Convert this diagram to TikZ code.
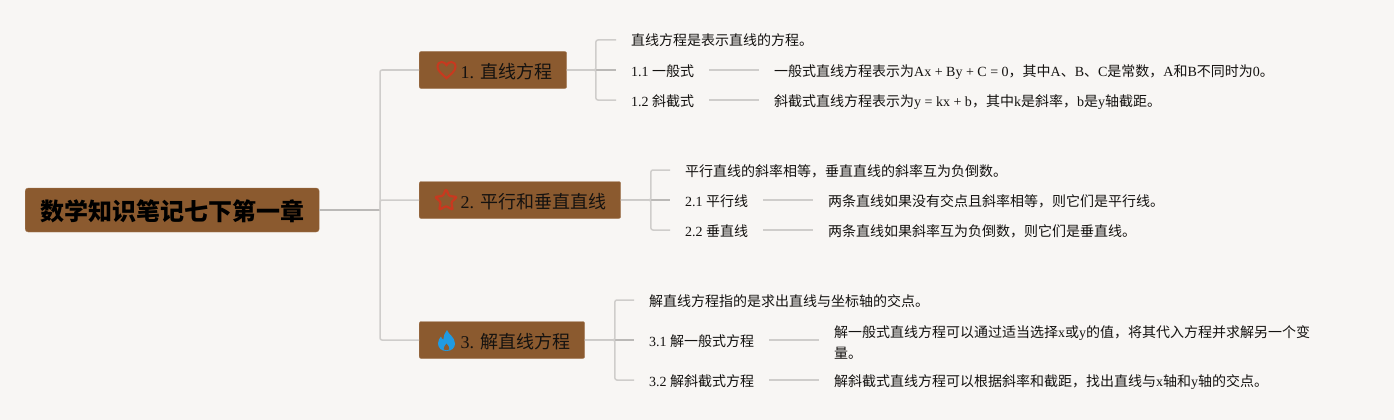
\documentclass[tikz,border=0pt]{standalone}
\usepackage{fontspec}
\setmainfont{Noto Sans CJK SC}
\newfontfamily\latinfont{Liberation Serif}
\newcommand{\Lat}[1]{{\latinfont #1}}
\definecolor{PaperBg}{HTML}{F8F6F4}
\definecolor{Brown}{HTML}{8B5A2F}
\definecolor{BrownEdge}{HTML}{A47B57}
\definecolor{LineGray}{HTML}{CFCDCB}
\definecolor{DLine}{HTML}{BBB9B7}
\definecolor{IconRed}{HTML}{C8391F}
\definecolor{IconBlue}{HTML}{1F9BE3}
\definecolor{Ink}{HTML}{141210}
\tikzset{
    rootbox/.style={draw=BrownEdge, fill=Brown, rounded corners=3pt, inner xsep=15pt, inner ysep=0pt,
        minimum height=44pt, anchor=west, text=black, text height=22pt, text depth=1pt, font=\fontsize{24}{28}\selectfont\bfseries},
    topicbox/.style={draw=BrownEdge, fill=Brown, rounded corners=2pt, inner xsep=14.5pt, inner ysep=0pt,
        minimum height=37pt, anchor=west, text=Ink, text height=16.5pt, text depth=0.5pt, font=\fontsize{18}{22}\selectfont},
    leaf/.style={anchor=west, inner xsep=15pt, inner ysep=0pt, text=Ink, text height=12.5pt, text depth=0.5pt,
        font=\fontsize{14}{21}\selectfont},
    wrapleaf/.style={anchor=west, inner xsep=15pt, inner ysep=0pt, text=Ink, align=left,
        font=\fontsize{14}{21}\selectfont},
    link/.style={draw=LineGray, line width=1.5pt, rounded corners=2pt},
    trunk/.style={draw=DLine, line width=1.5pt}
}
\NewDocumentCommand{\IconHeart}{O{(0,0)}}{
    \begin{scope}[shift={#1}]
    \draw[IconRed, line width=2pt] (0,8.2) .. controls (-4,4.5) and (-9,1) .. (-9,-3.2)
        .. controls (-9,-6.6) and (-6.8,-8) .. (-4.8,-8) .. controls (-2.8,-8) and (-1,-6.8) .. (0,-4.8)
        .. controls (1,-6.8) and (2.8,-8) .. (4.8,-8) .. controls (6.8,-8) and (9,-6.6) .. (9,-3.2)
        .. controls (9,1) and (4,4.5) .. cycle;
    \end{scope}
}
\NewDocumentCommand{\IconStar}{O{(0,0)}}{
    \begin{scope}[shift={#1}]
    \draw[IconRed, line width=2.2pt, line join=round, rounded corners=1pt]
        (-90:11.5) -- (-54:5.6) -- (-18:11.5) -- (18:5.6) -- (54:11.5) -- (90:5.6)
        -- (126:11.5) -- (162:5.6) -- (198:11.5) -- (234:5.6) -- cycle;
    \end{scope}
}
\NewDocumentCommand{\IconFlame}{O{(0,0)}}{
    \begin{scope}[shift={#1}]
    \fill[IconBlue] (0.5,-10.5) .. controls (1.5,-6.5) and (8.5,-3.5) .. (8.5,3)
        .. controls (8.5,7.5) and (5,10.5) .. (0,10.5) .. controls (-5,10.5) and (-8.5,7.5) .. (-8.5,3)
        .. controls (-8.5,0) and (-7,-2.5) .. (-5.5,-4) .. controls (-5.2,-2.5) and (-4.5,-1.5) .. (-3.2,-1)
        .. controls (-3.2,-4.5) and (-1.5,-8) .. cycle;
    \fill[Brown] (0,3) .. controls (1.5,5) and (3,6.5) .. (2.8,8.5) .. controls (2.5,10) and (-2.5,10) .. (-2.8,8.5)
        .. controls (-3,6.5) and (-1.5,5) .. cycle;
    \end{scope}
}

\begin{document}
\begin{tikzpicture}[x=1pt, y=-1pt]
\useasboundingbox (0,0) rectangle (1394,420);
\fill[PaperBg] (0,0) rectangle (1394,420);

\node[rootbox] (root) at (25,210) {数学知识笔记七下第一章};
\node[topicbox] (T1) at (419,70) {\hspace*{27pt}\Lat{1. }直线方程};
\node[topicbox] (T2) at (419,200) {\hspace*{27pt}\Lat{2. }平行和垂直直线};
\node[topicbox] (T3) at (419,340) {\hspace*{27pt}\Lat{3. }解直线方程};

% first topic
\node[leaf] (T1-note) at (616,40) {直线方程是表示直线的方程。};
\node[leaf] (T1-sub1) at (616,70) {\Lat{1.1 }一般式};
\node[leaf] (T1-sub2) at (616,100) {\Lat{1.2 }斜截式};
\node[leaf] (T1-text1) at (759,70) {一般式直线方程表示为\Lat{Ax + By + C = 0}，其中\Lat{A}、\Lat{B}、\Lat{C}是常数，\Lat{A}和\Lat{B}不同时为\Lat{0}。};
\node[leaf] (T1-text2) at (759,100) {斜截式直线方程表示为\Lat{y = kx + b}，其中\Lat{k}是斜率，\Lat{b}是\Lat{y}轴截距。};

% second topic
\node[leaf] (T2-note) at (670,170) {平行直线的斜率相等，垂直直线的斜率互为负倒数。};
\node[leaf] (T2-sub1) at (670,200) {\Lat{2.1 }平行线};
\node[leaf] (T2-sub2) at (670,230) {\Lat{2.2 }垂直线};
\node[leaf] (T2-text1) at (813,200) {两条直线如果没有交点且斜率相等，则它们是平行线。};
\node[leaf] (T2-text2) at (813,230) {两条直线如果斜率互为负倒数，则它们是垂直线。};

% third topic
\node[leaf] (T3-note) at (634,300) {解直线方程指的是求出直线与坐标轴的交点。};
\node[leaf] (T3-sub1) at (634,340) {\Lat{3.1 }解一般式方程};
\node[leaf] (T3-sub2) at (634,380) {\Lat{3.2 }解斜截式方程};
\node[wrapleaf] (T3-text1) at (819,342.5) {解一般式直线方程可以通过适当选择\Lat{x}或\Lat{y}的值，将其代入方程并求解另一个变\\量。};
\node[leaf] (T3-text2) at (819,380) {解斜截式直线方程可以根据斜率和截距，找出直线与\Lat{x}轴和\Lat{y}轴的交点。};

\coordinate (fork) at (380,210);
\draw[trunk] (root.east) -- (fork);
\draw[link] (fork) |- (T1.west);
\draw[link] (fork) |- (T2.west);
\draw[link] (fork) |- (T3.west);

\draw[trunk] (T1.east) -- (T1-sub1.west);
\draw[link] (T1.east) -- ++(29,0) |- (T1-note.west);
\draw[link] (T1.east) -- ++(29,0) |- (T1-sub2.west);
\draw[link] (T1-sub1.east) -- (T1-text1.west);
\draw[link] (T1-sub2.east) -- (T1-text2.west);

\draw[trunk] (T2.east) -- (T2-sub1.west);
\draw[link] (T2.east) -- ++(30,0) |- (T2-note.west);
\draw[link] (T2.east) -- ++(30,0) |- (T2-sub2.west);
\draw[link] (T2-sub1.east) -- (T2-text1.west);
\draw[link] (T2-sub2.east) -- (T2-text2.west);

\draw[trunk] (T3.east) -- (T3-sub1.west);
\draw[link] (T3.east) -- ++(30,0) |- (T3-note.west);
\draw[link] (T3.east) -- ++(30,0) |- (T3-sub2.west);
\draw[link] (T3-sub1.east) -- (T3-text1.west |- T3-sub1.east);
\draw[link] (T3-sub2.east) -- (T3-text2.west);

\IconHeart[(446.5,70)]
\IconStar[(446,200.5)]
\IconFlame[(446.5,340.5)]
\end{tikzpicture}
\end{document}
